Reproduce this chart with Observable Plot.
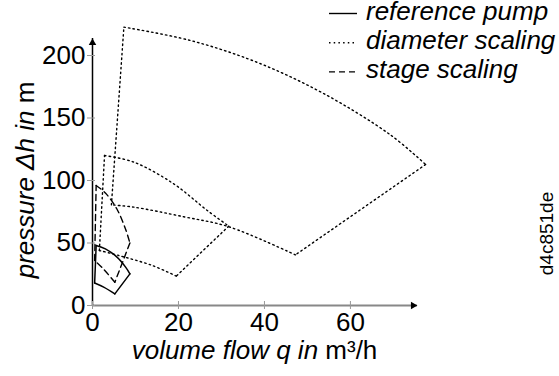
<!DOCTYPE html>
<html>
<head>
<meta charset="utf-8">
<script src="https://cdn.jsdelivr.net/npm/d3@7"></script>
<script src="https://cdn.jsdelivr.net/npm/@observablehq/plot@0.6"></script>
<style>
  body { margin: 0; background: #fff; }
  svg { display: block; }
</style>
</head>
<body>
<div id="chart"></div>
<script>
const font = "'Liberation Sans', Arial, Helvetica, sans-serif";

// axis extents and ticks
const xMax = 75.6;
const yMax = 213.6;
const xTicks = [0, 20, 40, 60];
const yTicks = [0, 50, 100, 150, 200];

// Each operating map is bounded by four edges:
// max-speed curve, max-flow limit, min-speed curve, min-flow limit  [q (m³/h), Δh (m)]
const referenceTop    = [[0.85, 48], [3.0, 45.3], [5.7, 38.7], [7.7, 30.7], [8.7, 25.3]];
const referenceRight  = [[8.7, 25.3], [5.2, 9.3]];
const referenceBottom = [[5.2, 9.3], [2.6, 14.7], [0.5, 18]];
const referenceLeft   = [[0.5, 18], [0.85, 48]];

const stageTop    = [[0.85, 96], [3.0, 90], [5.7, 77], [7.7, 61], [8.7, 50]];
const stageRight  = [[8.7, 50], [5.2, 18.6]];
const stageBottom = [[5.2, 18.6], [2.6, 29], [0.5, 36]];
const stageLeft   = [[0.5, 36], [0.85, 96]];

const diameterSmallTop    = [[2.8, 120], [9.6, 114.7], [18.9, 97.3], [26.7, 76], [31.7, 63.5]];
const diameterSmallRight  = [[31.7, 63.5], [19.5, 23.5]];
const diameterSmallBottom = [[19.5, 23.5], [13.9, 32], [6.1, 40], [1.6, 44]];
const diameterSmallLeft   = [[1.6, 44], [2.8, 120]];

const diameterLargeTop    = [[7.3, 222.7], [22.8, 212], [38.3, 194.5], [53.8, 169.5], [69.3, 136.5], [77.5, 112.8]];
const diameterLargeRight  = [[77.5, 112.8], [47.2, 40.5]];
const diameterLargeBottom = [[47.2, 40.5], [31.7, 63], [21.2, 71], [9.6, 78.7], [4.4, 80.5]];
const diameterLargeLeft   = [[4.4, 80.5], [7.3, 222.7]];

const seriesNames = ["reference pump", "diameter scaling", "stage scaling"];
const seriesDash = {"reference pump": null, "diameter scaling": "1.5,3.2", "stage scaling": "6,4"};

const maps = [
  {series: "reference pump", edges: [referenceTop, referenceRight, referenceBottom, referenceLeft]},
  {series: "stage scaling", edges: [stageTop, stageRight, stageBottom, stageLeft]},
  {series: "diameter scaling", edges: [diameterSmallTop, diameterSmallRight, diameterSmallBottom, diameterSmallLeft]},
  {series: "diameter scaling", edges: [diameterLargeTop, diameterLargeRight, diameterLargeBottom, diameterLargeLeft]}
];

const rows = maps.flatMap((m, mi) =>
  m.edges.flatMap((edge, ei) => edge.map(([q, h]) => ({series: m.series, edge: `${mi}-${ei}`, q, h})))
);

const curveMarks = seriesNames.map(name =>
  Plot.line(rows.filter(d => d.series === name), {
    x: "q", y: "h", z: "edge",
    curve: "catmull-rom",
    stroke: "black",
    strokeWidth: name === "reference pump" ? 1.5 : 1.4,
    strokeDasharray: seriesDash[name]
  })
);

const plot = Plot.plot({
  width: 559,
  height: 376,
  marginLeft: 92,
  marginRight: 142,
  marginTop: 38,
  marginBottom: 71,
  x: {domain: [0, xMax], label: null},
  y: {domain: [0, yMax], label: null},
  style: {fontFamily: font, fontSize: "26px", background: "white", overflow: "visible"},
  marks: [
    ...curveMarks,
    // axis lines
    Plot.ruleY([0], {x1: 0, x2: xMax, stroke: "#888", strokeWidth: 2}),
    Plot.ruleX([0], {y1: 0, y2: yMax, stroke: "black", strokeWidth: 1.5}),
    // arrow heads
    Plot.dot([[xMax, 0]], {x: d => d[0], y: d => d[1], symbol: "triangle", r: 2.8, rotate: 90, dx: -4.4, fill: "black", stroke: null}),
    Plot.dot([[0, yMax]], {x: d => d[0], y: d => d[1], symbol: "triangle", r: 2.8, dy: 4.4, fill: "black", stroke: null}),
    Plot.axisX({ticks: xTicks, tickSize: 8, dy: -4, tickPadding: 3, stroke: "#999", fontSize: 26, label: null}),
    Plot.axisY({ticks: yTicks, tickSize: 8, dx: 3, tickPadding: 2, stroke: "#999", fontSize: 26, label: null})
  ]
});

document.getElementById("chart").append(plot);

const svg = d3.select(plot);

// axis titles: italic quantity, upright unit
const xTitle = svg.append("text")
  .attr("x", 254.5).attr("y", 359)
  .attr("text-anchor", "middle")
  .attr("font-family", font).attr("font-size", 26).attr("fill", "black");
xTitle.append("tspan").attr("font-style", "italic").text("volume flow q in");
xTitle.append("tspan").text("\u00a0m³/h");

const yTitle = svg.append("text")
  .attr("transform", "translate(34,180) rotate(-90)")
  .attr("text-anchor", "middle")
  .attr("font-family", font).attr("font-size", 26).attr("fill", "black");
yTitle.append("tspan").attr("font-style", "italic").text("pressure Δh in");
yTitle.append("tspan").text("\u00a0m");

// legend
const legend = svg.append("g")
  .attr("font-family", font).attr("font-size", 26).attr("text-anchor", "start");
seriesNames.forEach((name, i) => {
  const y = 13.5 + i * 29.2;
  legend.append("line")
    .attr("x1", 329).attr("x2", 357).attr("y1", y).attr("y2", y)
    .attr("stroke", "black").attr("stroke-width", 1.4)
    .attr("stroke-dasharray", seriesDash[name]);
  legend.append("text")
    .attr("x", 366).attr("y", y + 6.5)
    .attr("font-style", "italic").attr("fill", "black")
    .text(name);
});

// identifier along the right edge
svg.append("text")
  .attr("transform", "translate(553,233.5) rotate(-90)")
  .attr("text-anchor", "middle")
  .attr("font-family", font).attr("font-size", 19).attr("fill", "black")
  .text("d4c851de");
</script>
</body>
</html>
